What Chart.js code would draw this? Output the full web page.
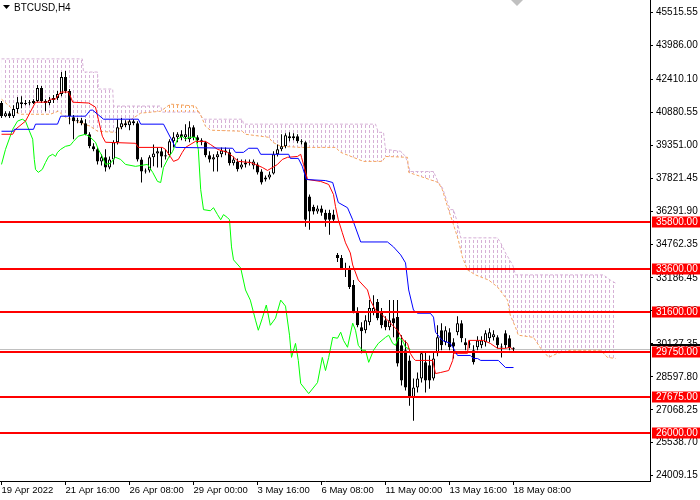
<!DOCTYPE html>
<html>
<head>
<meta charset="utf-8">
<script src="https://cdn.jsdelivr.net/npm/chart.js@4.4.1/dist/chart.umd.min.js"></script>
<style>
  html, body { margin: 0; padding: 0; background: #fff; }
  #chart { display: block; }
</style>
</head>
<body>
<canvas id="chart" width="700" height="500"></canvas>
<script>
// BTCUSD H4 candles (bar 0 = 19 Apr 2022 00:00)
const candleOpen = [
  41310, 40700, 40840, 40700, 41030, 41350, 41260, 41310, 41310, 41400,
  42010, 41400, 41310, 41450, 41540, 41730, 42520, 41870, 40650, 40470,
  40510, 40370, 39860, 39300, 39160, 38600, 38790, 38320, 38690, 39490,
  40190, 40370, 40280, 40470, 40370, 38690, 38130, 38180, 38790, 38970,
  39070, 38830, 38880, 39530, 39720, 39860, 39720, 39630, 40190, 39720,
  39580, 39490, 38880, 38690, 38790, 38930, 39110, 39020, 38510, 38600,
  38320, 38460, 38550, 38410, 38460, 38130, 37760, 37850, 38040, 38930,
  39160, 39300, 39770, 39670, 39770, 39530, 39490, 36970, 36500, 36270,
  36410, 36220, 36220, 36130, 34260, 34120, 33650, 33650, 32860, 31600,
  30900, 30760, 31130, 31600, 32070, 31600, 31230, 30900, 31320, 31370,
  30060, 29830, 29360, 27630, 28100, 28520, 29270, 29130, 28520, 29690,
  30760, 30200, 30670, 30200, 30670, 31090, 30200, 30110, 29830, 29970,
  30060, 30200, 30390, 30430, 30430, 29970, 30620, 30390, 29920
];
const candleHigh = [
  41400, 40930, 40930, 41210, 41590, 41630, 41450, 41450, 41490, 42150,
  42100, 41490, 41590, 41680, 41870, 42750, 42800, 41960, 40750, 40610,
  40610, 40560, 39950, 39440, 39250, 38930, 39160, 38830, 39580, 40560,
  40610, 40510, 40560, 40560, 40470, 38790, 38270, 38880, 39390, 39250,
  39250, 39160, 39630, 39950, 39950, 40050, 40330, 40470, 40280, 39810,
  39670, 39530, 39070, 38930, 39070, 39250, 39250, 39160, 38830, 38740,
  38690, 38690, 38690, 38690, 38550, 38230, 37950, 38130, 39070, 39390,
  39860, 39910, 39950, 39910, 39860, 39630, 39530, 37060, 36590, 36550,
  36550, 36360, 36360, 36360, 34350, 34260, 33890, 33750, 33090, 31830,
  31130, 31460, 32160, 32390, 32210, 31790, 31410, 32160, 32160, 32160,
  30530, 30290, 29590, 28520, 28800, 29730, 29730, 29590, 29730, 30990,
  31090, 30950, 30850, 30390, 31410, 31230, 30390, 30290, 30060, 30480,
  30480, 30760, 30850, 30760, 30530, 30150, 30760, 30530, 29970
];
const candleLow = [
  40610, 40650, 40610, 40610, 40840, 41070, 41210, 41210, 41260, 41350,
  41310, 40930, 41210, 41310, 41450, 41630, 41770, 40330, 39630, 40370,
  40280, 39810, 39210, 39070, 38460, 38410, 38130, 38230, 38460, 39390,
  40090, 40190, 40050, 40280, 38600, 37620, 38040, 38090, 38370, 38320,
  38320, 38690, 38790, 39250, 39490, 39580, 39530, 39490, 39580, 39440,
  39350, 38790, 38550, 38130, 38130, 38790, 38880, 38410, 38410, 38130,
  38230, 38320, 38410, 38230, 37990, 37530, 37670, 37760, 37990, 38830,
  39070, 39210, 39530, 39580, 39440, 39390, 35570, 35430, 36130, 36170,
  36080, 35570, 35190, 35800, 33930, 33560, 33230, 32670, 31550, 30900,
  29690, 30620, 30990, 31460, 31230, 30850, 30760, 30760, 30430, 29080,
  28190, 27960, 27260, 26560, 27870, 28330, 27870, 28050, 28430, 29550,
  29830, 30060, 29830, 29450, 30530, 30200, 29830, 29920, 29170, 29830,
  29920, 30010, 30200, 30290, 29920, 29500, 29920, 29830, 29780
];
const candleClose = [
  40700, 40840, 40700, 41030, 41350, 41260, 41310, 41300, 41400, 42010,
  41400, 41310, 41450, 41540, 41730, 42520, 41870, 40700, 40470, 40510,
  40370, 39860, 39300, 39160, 38600, 38790, 38320, 38690, 39490, 40190,
  40370, 40280, 40470, 40370, 38690, 38130, 38180, 38790, 38970, 39070,
  38830, 38880, 39530, 39720, 39860, 39720, 39860, 40190, 39720, 39580,
  39490, 38880, 38690, 38790, 38930, 39110, 39020, 38510, 38690, 38230,
  38460, 38550, 38540, 38600, 38090, 37620, 37850, 37990, 38930, 39160,
  39300, 39810, 39670, 39770, 39530, 39490, 35890, 36270, 36270, 36410,
  36220, 35890, 35890, 35890, 34120, 33650, 33560, 32770, 31600, 30990,
  30710, 31230, 31790, 31790, 31320, 30990, 30900, 31230, 31090, 29220,
  28430, 28100, 27630, 28100, 28520, 29690, 28430, 28430, 29450, 30430,
  30060, 30760, 29970, 30010, 31090, 30390, 30060, 30100, 29270, 30290,
  30290, 30620, 30670, 30570, 30060, 29960, 30060, 29920, 29900
];

// Ichimoku lines, break points read as [bar, price]
const tenkanPts = [
  [0, 39860], [2.8, 39860], [3.5, 40090], [6, 40470], [7.2, 40890], [8.5, 41350], [11.5, 41350],
  [12.2, 41490], [13.5, 41490], [14.8, 41820], [16.8, 41820], [17.8, 41350], [21.8, 41310],
  [23.5, 41120], [24.2, 40560], [25.2, 39770], [26, 39490], [33.5, 39440], [34.2, 39250],
  [40.2, 39250], [41, 39160], [42.2, 38830], [43, 38600], [44.2, 38690], [45.2, 39020],
  [46, 39250], [48.5, 39530], [51, 39530], [52.2, 39390], [54, 39160], [56.5, 39020],
  [57.8, 38830], [59.2, 38600], [62.2, 38550], [63.5, 38460], [65.2, 38320], [66.5, 38180],
  [67.8, 38320], [69, 38460], [70.2, 38690], [71.5, 38790], [74, 38830], [74.8, 38930],
  [75, 38790], [75.5, 38460], [76.5, 37760], [79.8, 37670], [81.8, 37530], [83, 37060],
  [83.5, 36500], [84.2, 35890], [85.2, 35290], [86, 34820], [87.2, 34350], [87.8, 33790],
  [89.2, 33090], [91.5, 32630], [92.2, 32160], [93.5, 31690], [94.8, 31550], [96.5, 31230],
  [99, 30760], [100.5, 30290], [101.5, 30150], [102.2, 29690], [103, 29450], [103.5, 29360],
  [107.8, 29360], [108.5, 28750], [109.8, 28800], [111.8, 28890], [112.8, 29360], [113, 29690],
  [116.5, 29690], [116.8, 30290], [120.5, 30290], [122.2, 30150], [124, 29920], [126, 29920],
  [127.2, 29970], [127.8, 29870]
];
const kijunPts = [
  [0, 40000], [3, 40000], [3.2, 40090], [8, 40090], [8.5, 40330], [14, 40330], [14.8, 40700],
  [21, 40700], [22.2, 40980], [22.8, 40980], [25.5, 40560], [34.2, 40560], [34.8, 40330],
  [40.5, 40330], [43.5, 39250], [57.8, 39210], [58.5, 39020], [60.5, 39020], [61.8, 39210],
  [64, 39210], [64.8, 38930], [71.8, 38930], [72.2, 38740], [74.2, 38740], [75.2, 38370],
  [76.2, 37760], [81, 37710], [82.8, 37620], [84.2, 36690], [86.5, 36450], [87.8, 35890],
  [89.8, 34860], [96.5, 34860], [98, 34630], [99.8, 34260], [101, 33890], [101.8, 32630],
  [103, 31690], [104, 31550], [107.2, 31550], [108, 31370], [108.5, 30670], [110.2, 30290],
  [112.2, 30150], [113, 29920], [114, 29590], [117.2, 29590], [118, 29450], [119, 29450],
  [119.8, 29360], [124.2, 29360], [126, 29030], [128, 29030]
];
const chikouPts = [
  [0, 38460], [1, 39160], [2.8, 40090], [4, 40470], [5.2, 40560], [6, 40470], [6.8, 40090],
  [7.8, 39630], [8.2, 38690], [8.5, 38230], [9.2, 38090], [10.2, 38230], [11, 38550],
  [11.8, 38830], [12.8, 38930], [13.5, 38830], [14, 39020], [14.8, 39160], [16, 39300],
  [17.2, 39350], [18, 39530], [19.2, 39770], [21, 39860], [22.2, 39720], [23.5, 39490],
  [24.2, 39160], [25.2, 38830], [26, 38460], [27.2, 38510], [28.5, 38790], [29.8, 38690],
  [31, 38460], [33.5, 38370], [34.8, 38410], [36.5, 38460], [37.8, 38090], [39, 37670],
  [39.8, 37620], [40.5, 38320], [41.8, 38790], [42.8, 39070], [44, 39630], [45.2, 39770],
  [46, 39630], [46.8, 39720], [48.5, 39720], [49.2, 39160], [49.8, 37290], [50.5, 36360],
  [52.2, 36310], [53, 36450], [54, 36130], [54.8, 35890], [55.5, 36130], [56.5, 35990],
  [57, 35890], [57.5, 34630], [58, 34030], [59.8, 33650], [61, 32630], [62.2, 32160],
  [63.5, 31230], [64.2, 30760], [65.2, 31320], [66.2, 31930], [67.2, 30990], [68.5, 31320],
  [69.8, 32160], [71, 31880], [72, 30530], [72.5, 29500], [73.5, 30150], [74.2, 29360],
  [74.8, 28290], [76.8, 27820], [79, 28330], [80.2, 29500], [81, 28890], [81.8, 29500],
  [82.8, 30430], [84, 30390], [84.8, 30670], [85.5, 30290], [86.5, 29970], [87.8, 31090],
  [88.5, 30760], [89.2, 30060], [90.2, 29830], [91, 29830], [91.8, 29270], [93, 29830],
  [94.2, 30150], [96, 30430], [96.8, 30530], [97.8, 30150], [98.5, 30060], [99.2, 30430],
  [100.2, 30290], [101, 29970], [102.2, 29870]
];
const spanAPts = [
  [0, 41490], [2.2, 41120], [3.5, 40890], [4.8, 40790], [12.2, 40790], [14.2, 40930],
  [16, 40650], [22.2, 40230], [24, 40000], [28.5, 39950], [31, 40370], [34.8, 40840],
  [39.8, 40930], [42.2, 41260], [48.5, 41170], [49.8, 40750], [51, 40230], [52.2, 40050],
  [60.2, 40000], [61, 39860], [66.8, 39720], [67.8, 39490], [69.8, 39300], [74.8, 39250],
  [83.5, 39250], [84.8, 39020], [90.5, 38600], [95.2, 38600], [96, 38830], [101.5, 38790],
  [101.8, 38090], [109.2, 37620], [110.2, 37290], [111.5, 36500], [113, 35660], [114.2, 34960],
  [115.2, 34170], [116.5, 33560], [118.5, 33330], [121.8, 33090], [124, 32770], [126.5, 32160],
  [127.2, 31460], [128.5, 30900], [129.2, 30530], [133, 30430], [134.8, 29920], [136.8, 29500],
  [139, 29690], [142.2, 29830], [149.8, 29830], [151.5, 29500], [153.5, 29450]
];
const spanBPts = [
  [0, 43360], [20.2, 43360], [20.5, 42750], [24, 42750], [24.2, 41960], [27.8, 41960],
  [28, 41170], [39.8, 41170], [40.2, 40890], [49.2, 40890], [50.5, 40560], [60.2, 40560],
  [60.5, 40330], [93.5, 40330], [94.2, 39950], [95.5, 39950], [96, 39160], [99.8, 39070],
  [101, 38830], [102.2, 38130], [108, 38130], [109.2, 37620], [110.2, 37390], [111.5, 36690],
  [112.2, 36360], [113, 36360], [114, 35750], [114.8, 35050], [124, 35050], [124.8, 34820],
  [126, 34350], [127.8, 33790], [128.5, 33330], [150.5, 33330], [152.2, 33090], [153.5, 32950]
];

// red horizontal levels
const levels = [35800, 33600, 31600, 29750, 27675, 26000];

const xTickBars = [0, 16, 32, 48, 64, 80, 96, 112, 128];
const xTickLabels = ['19 Apr 2022', '21 Apr 16:00', '26 Apr 08:00', '29 Apr 00:00', '3 May 16:00',
  '6 May 08:00', '11 May 00:00', '13 May 16:00', '18 May 08:00'];
const yTickValues = [45515.55, 43986.00, 42410.10, 40880.55, 39351.00, 37821.45, 36291.90, 34762.35,
  33186.45, 31656.90, 30127.35, 28597.80, 27068.25, 25538.70, 24009.15];

const FONT = 'Liberation Sans';
Chart.defaults.font.family = FONT;
Chart.defaults.font.size = 10;
Chart.defaults.color = '#000';

const CLOUD_DN = '#d6b0d6';   // thistle hatch (span B on top)
const CLOUD_UP = '#f4a460';   // sandy brown hatch (span A on top)

function toPoints(pairs) {
  return pairs.map(p => ({ x: p[0], y: p[1] }));
}

// vertical dashed hatch like the MT4 cloud
function hatch(color) {
  const c = document.createElement('canvas');
  c.width = 4;
  c.height = 5;
  const g = c.getContext('2d');
  g.fillStyle = color;
  g.fillRect(1, 0, 1, 3);
  return g.createPattern(c, 'repeat');
}

function lineSet(label, pts, color, order) {
  return {
    label: label, data: toPoints(pts), borderColor: color, borderWidth: 1,
    pointRadius: 0, tension: 0, fill: false, order: order
  };
}

const barIdx = candleClose.map((c, i) => i);
const wickData = barIdx.map(i => ({ x: i, y: [candleLow[i], candleHigh[i]] }));
const bodyData = barIdx.map(i => ({ x: i, y: [candleOpen[i], candleClose[i]] }));
const bodyFill = barIdx.map(i => candleClose[i] > candleOpen[i] ? '#ffffff' : '#000000');
const bidPrice = candleClose[candleClose.length - 1];

const overlay = {
  id: 'overlay',
  beforeDatasetsDraw(chart) {
    const { ctx, chartArea, scales } = chart;
    const py = Math.round(scales.y.getPixelForValue(bidPrice)) + 0.5;
    ctx.save();
    ctx.strokeStyle = '#c0c0c0';
    ctx.lineWidth = 1;
    ctx.beginPath();
    ctx.moveTo(chartArea.left, py);
    ctx.lineTo(chartArea.right, py);
    ctx.stroke();
    ctx.restore();
  },
  afterDatasetsDraw(chart) {
    const { ctx, chartArea, scales } = chart;
    ctx.save();
    ctx.fillStyle = '#ff0000';
    levels.forEach(v => {
      const py = Math.round(scales.y.getPixelForValue(v));
      ctx.fillRect(chartArea.left, py - 1, chartArea.right - chartArea.left, 2);
    });
    ctx.restore();
  },
  afterDraw(chart) {
    const { ctx, chartArea, scales } = chart;
    ctx.save();
    // bid marker edge on the price scale
    const by = Math.round(scales.y.getPixelForValue(bidPrice));
    ctx.fillStyle = '#000';
    ctx.fillRect(chartArea.right, by - 5, 700 - chartArea.right, 2);

    ctx.font = '10px "' + FONT + '"';
    ctx.textBaseline = 'middle';
    ctx.textAlign = 'left';
    levels.forEach(v => {
      const py = Math.round(scales.y.getPixelForValue(v));
      ctx.fillStyle = '#ff0000';
      ctx.fillRect(chartArea.right + 2, py - 5.5, 48, 11);
      ctx.fillStyle = '#ffffff';
      ctx.fillText(v.toFixed(2), chartArea.right + 6, py + 0.5);
    });

    // symbol caption
    ctx.fillStyle = '#000';
    ctx.beginPath();
    ctx.moveTo(3, 5);
    ctx.lineTo(10, 5);
    ctx.lineTo(6.5, 9);
    ctx.closePath();
    ctx.fill();
    ctx.fillText('BTCUSD,H4', 14, 8);

    // chart shift marker
    ctx.fillStyle = '#c0c0c0';
    ctx.beginPath();
    ctx.moveTo(511, 0);
    ctx.lineTo(523, 0);
    ctx.lineTo(517, 6);
    ctx.closePath();
    ctx.fill();
    ctx.restore();
  }
};

new Chart(document.getElementById('chart'), {
  type: 'line',
  data: {
    datasets: [
      Object.assign(lineSet('Senkou A', spanAPts, CLOUD_UP, 10), { borderDash: [3, 2] }),
      Object.assign(lineSet('Senkou B', spanBPts, CLOUD_DN, 10), {
        borderDash: [3, 2],
        fill: { target: '-1', above: hatch(CLOUD_DN), below: hatch(CLOUD_UP) }
      }),
      {
        type: 'bar', label: 'wick', data: wickData, backgroundColor: '#000000',
        barThickness: 1, grouped: false, inflateAmount: 0, order: 4
      },
      {
        type: 'bar', label: 'body', data: bodyData, backgroundColor: bodyFill,
        borderColor: '#000000', borderWidth: 1, borderSkipped: false,
        barThickness: 3, minBarLength: 1, grouped: false, inflateAmount: 0, order: 3
      },
      lineSet('Chikou', chikouPts, '#00ff00', 2),
      lineSet('Kijun', kijunPts, '#0000ff', 1),
      lineSet('Tenkan', tenkanPts, '#ff0000', 1)
    ]
  },
  options: {
    responsive: false,
    devicePixelRatio: 1,
    animation: false,
    layout: { padding: 0 },
    plugins: {
      legend: { display: false },
      tooltip: { enabled: false }
    },
    scales: {
      x: {
        type: 'linear', min: -0.375, max: 162.125, offset: false,
        afterBuildTicks: s => { s.ticks = xTickBars.map(v => ({ value: v })); },
        afterFit: s => { s.height = 19; s.paddingLeft = 0; s.paddingRight = 0; },
        grid: { drawOnChartArea: false, drawTicks: true, tickLength: 4, color: '#000', offset: false },
        border: { color: '#000' },
        ticks: {
          autoSkip: false, maxRotation: 0, minRotation: 0, align: 'start', padding: 0,
          font: { size: 9.5 },
          callback: v => { const k = xTickBars.indexOf(v); return k >= 0 ? xTickLabels[k] : ''; }
        }
      },
      y: {
        type: 'linear', position: 'right', min: 23761, max: 46094,
        afterBuildTicks: s => { s.ticks = yTickValues.map(v => ({ value: v })); },
        afterFit: s => { s.width = 50; s.paddingTop = 0; s.paddingBottom = 0; },
        grid: { drawOnChartArea: false, drawTicks: true, tickLength: 3, color: '#000' },
        border: { color: '#000' },
        ticks: { autoSkip: false, padding: 3, callback: v => v.toFixed(2) }
      }
    }
  },
  plugins: [overlay]
});
</script>
</body>
</html>
